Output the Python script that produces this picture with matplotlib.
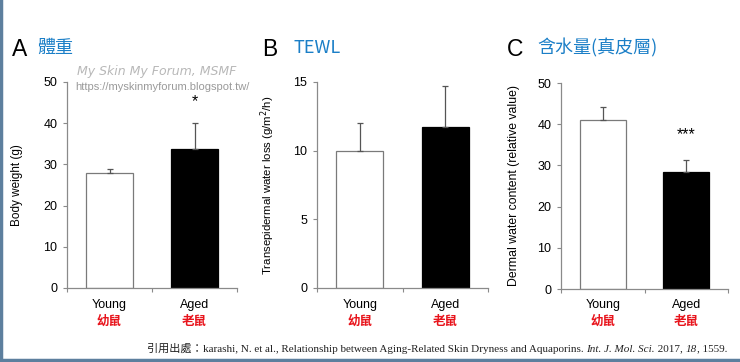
import matplotlib
matplotlib.use("Agg")
import matplotlib.pyplot as plt
from matplotlib.transforms import blended_transform_factory
from matplotlib.lines import Line2D

groups_en = ["Young", "Aged"]
groups_zh = ["幼鼠", "老鼠"]

weight_mean = [28.0, 33.8]
weight_err = [1.0, 6.2]

tewl_mean = [10.0, 11.7]
tewl_err = [2.0, 3.0]

water_mean = [41.0, 28.3]
water_err = [3.2, 2.9]

panels = [
    dict(letter="A", title="體重", mean=weight_mean, err=weight_err,
         ylim=(0, 50), yticks=[0, 10, 20, 30, 40, 50],
         ylabel="Body weight (g)", star=["", "*"], ylfs=8.5, soff=12),
    dict(letter="B", title="TEWL", mean=tewl_mean, err=tewl_err,
         ylim=(0, 15), yticks=[0, 5, 10, 15],
         ylabel="Transepidermal water loss (g/m$^2$/h)", star=["", ""], ylfs=8.2, soff=12),
    dict(letter="C", title="含水量(真皮層)", mean=water_mean, err=water_err,
         ylim=(0, 50), yticks=[0, 10, 20, 30, 40, 50],
         ylabel="Dermal water content (relative value)", star=["", "***"], ylfs=8.8, soff=15),
]

W, H = 740, 362
fig = plt.figure(figsize=(W / 100, H / 100), dpi=100)
fig.patch.set_facecolor("white")

boxes = [(67, 237, 82, 288), (317, 488, 82, 288), (561, 728, 83, 289)]
title_pos = [(12, 37), (262, 293), (507, 537)]
ylabel_x = [17, 268, 514]

cjk = ["Noto Sans CJK TC", "DejaVu Sans"]
sans = ["Liberation Sans", "Noto Sans CJK TC"]
blue = "#1b7fc7"
gray = "#8a8a8a"

for p, box, tp, ylx in zip(panels, boxes, title_pos, ylabel_x):
    l, r, t, b = box
    ax = fig.add_axes([l / W, 1 - b / H, (r - l) / W, (b - t) / H])
    x = [0.5, 1.5]
    ax.bar(x[0], p["mean"][0], width=0.55, color="white", edgecolor="#7a7a7a", linewidth=0.9, zorder=2)
    ax.bar(x[1], p["mean"][1], width=0.55, color="black", edgecolor="black", linewidth=0.9, zorder=2)
    ax.errorbar(x, p["mean"], yerr=[[0, 0], p["err"]], fmt="none", ecolor="#555555",
                elinewidth=0.9, capsize=2, capthick=0.9, zorder=3)
    ax.set_xlim(0, 2)
    ax.set_ylim(*p["ylim"])
    ax.set_yticks(p["yticks"])
    ax.set_yticklabels([str(v) for v in p["yticks"]], fontsize=9, family=sans)
    ax.set_xticks([0, 1, 2])
    ax.set_xticklabels([])
    ax.tick_params(axis="both", direction="out", length=3, width=0.8, color=gray, pad=4)
    for s in ["top", "right"]:
        ax.spines[s].set_visible(False)
    for s in ["left", "bottom"]:
        ax.spines[s].set_color(gray)
        ax.spines[s].set_linewidth(0.9)
    tr = blended_transform_factory(ax.transData, fig.transFigure)
    for xi, en, zh, st, m, e in zip(x, groups_en, groups_zh, p["star"], p["mean"], p["err"]):
        ax.text(xi, 1 - 305 / H, en, transform=tr, ha="center", va="center",
                fontsize=9, family=sans)
        ax.text(xi, 1 - 321 / H, zh, transform=tr, ha="center", va="center",
                fontsize=9, family=cjk, color="#e8141c", fontweight="bold")
        if st:
            ax.annotate(st, (xi, m + e), xytext=(0, p["soff"]), textcoords="offset points",
                        ha="center", va="baseline", fontsize=11.5, family=sans)
    fig.text(tp[0] / W, 1 - 49 / H, p["letter"], fontsize=16.5, family=sans, ha="left", va="center")
    fig.text(tp[1] / W, 1 - 48 / H, p["title"], fontsize=13, family=cjk, color=blue,
             ha="left", va="center")
    fig.text(ylx / W, 1 - ((t + b) / 2) / H, p["ylabel"], rotation=90, fontsize=p["ylfs"],
             family=sans, ha="center", va="center")

# watermark
fig.text(77 / W, 1 - 71 / H, "My Skin My Forum, MSMF", fontsize=9, color="#b8b8b8",
         style="italic", family=["DejaVu Sans"], ha="left", va="center")
fig.text(75 / W, 1 - 87 / H, "https://myskinmyforum.blogspot.tw/", fontsize=8,
         color="#9a9a9a", family=sans, ha="left", va="center")

# citation built from pieces, right aligned at x=727
serif = ["Liberation Serif", "Noto Sans CJK TC"]
pieces = [
    ("引用出處：", ["Noto Sans CJK TC"], "normal"),
    ("karashi, N. et al., Relationship between Aging-Related Skin Dryness and Aquaporins. ", serif, "normal"),
    ("Int. J. Mol. Sci.", serif, "italic"),
    (" 2017, ", serif, "normal"),
    ("18", serif, "italic"),
    (", 1559.", serif, "normal"),
]
renderer = fig.canvas.get_renderer()
target_left, target_right = 147, 727
fs = 8.5
texts = []
for s, fam, sty in pieces:
    t = fig.text(0, 1 - 349 / H, s, fontsize=fs, family=fam, style=sty, color="#222222",
                 ha="left", va="center")
    texts.append(t)
widths = [t.get_window_extent(renderer).width for t in texts]
scale = (target_right - target_left) / sum(widths)
for t in texts:
    t.set_fontsize(fs * scale)
widths = [t.get_window_extent(renderer).width for t in texts]
xcur = target_right - sum(widths)
for t, w in zip(texts, widths):
    t.set_x(xcur / W)
    xcur += w

# frame lines (left and bottom)
fig.add_artist(Line2D([1 / W, 1 / W], [0, 1], transform=fig.transFigure, color="#5d7f9e", lw=2.5))
fig.add_artist(Line2D([0, 1], [2 / H, 2 / H], transform=fig.transFigure, color="#5d7f9e", lw=2.5))

fig.savefig("out.png", dpi=100)
